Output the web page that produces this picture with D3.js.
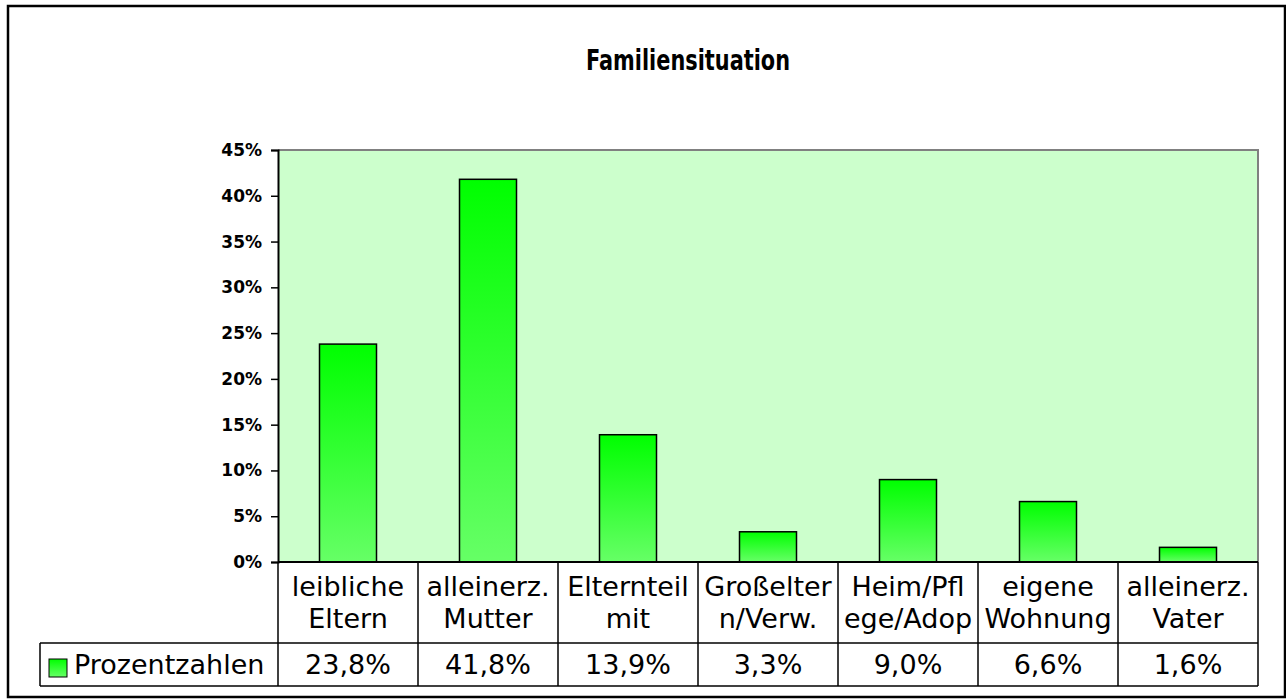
<!DOCTYPE html>
<html>
<head>
<meta charset="utf-8">
<script src="https://cdn.jsdelivr.net/npm/d3@7"></script>
<style>
  body { margin: 0; background: #fff; }
  svg { display: block; }
</style>
</head>
<body>
<div class="chart"></div>
<script>
// chart data
var title = "Familiensituation";
var seriesName = "Prozentzahlen";
var categories = ["leibliche Eltern", "alleinerz. Mutter", "Elternteil mit", "Großeltern/Verw.",
                  "Heim/Pflege/Adop", "eigene Wohnung", "alleinerz. Vater"];
// how the labels wrap in the data table
var categoryLines = [["leibliche", "Eltern"], ["alleinerz.", "Mutter"], ["Elternteil", "mit"],
                     ["Großelter", "n/Verw."], ["Heim/Pfl", "ege/Adop"], ["eigene", "Wohnung"],
                     ["alleinerz.", "Vater"]];
var values = [23.8, 41.8, 13.9, 3.3, 9.0, 6.6, 1.6];
var yTicks = [0, 5, 10, 15, 20, 25, 30, 35, 40, 45];

var width = 1286, height = 699;
var plot = {left: 278, right: 1258, top: 150, bottom: 562};
var tableMid = 643, tableBottom = 686, legendLeft = 40;

var de = d3.formatLocale({decimal: ",", thousands: ".", grouping: [3], currency: ["", " €"]});
var fmtVal = de.format(".1f");

var svg = d3.select("div.chart").append("svg")
  .attr("width", width)
  .attr("height", height);

var defs = svg.append("defs");
var grad = defs.append("linearGradient")
  .attr("id", "barGrad")
  .attr("x1", 0).attr("y1", 0).attr("x2", 0).attr("y2", 1);
grad.append("stop").attr("offset", "0%").attr("stop-color", "#00ff00");
grad.append("stop").attr("offset", "100%").attr("stop-color", "#66ff66");

// outer frame
svg.append("rect")
  .attr("x", 8).attr("y", 6)
  .attr("width", 1277).attr("height", 691)
  .attr("fill", "#fff")
  .attr("stroke", "#000")
  .attr("stroke-width", 2.5);

svg.append("text")
  .attr("x", 688).attr("y", 70)
  .attr("text-anchor", "middle")
  .attr("textLength", 204)
  .attr("lengthAdjust", "spacingAndGlyphs")
  .style("font-family", "DejaVu Sans")
  .style("font-weight", "bold")
  .style("font-size", "29px")
  .text(title);

var x = d3.scaleBand()
  .domain(categories)
  .range([plot.left, plot.right])
  .padding(0);

var y = d3.scaleLinear()
  .domain([0, 45])
  .range([plot.bottom, plot.top]);

// plot background
svg.append("rect")
  .attr("x", plot.left).attr("y", plot.top)
  .attr("width", plot.right - plot.left)
  .attr("height", plot.bottom - plot.top)
  .attr("fill", "#ccffcc");

svg.append("path")
  .attr("d", "M" + plot.left + "," + plot.top + "H" + plot.right + "V" + plot.bottom)
  .attr("fill", "none")
  .attr("stroke", "#808080")
  .attr("stroke-width", 2);

// bars
var barW = 57;
svg.append("g").selectAll("rect")
  .data(values)
  .enter().append("rect")
  .attr("x", (d, i) => x(categories[i]) + (x.bandwidth() - barW) / 2)
  .attr("y", d => y(d))
  .attr("width", barW)
  .attr("height", d => y(0) - y(d))
  .attr("fill", "url(#barGrad)")
  .attr("stroke", "#000")
  .attr("stroke-width", 1.5);

// y axis
var yAxis = svg.append("g")
  .attr("transform", "translate(" + plot.left + ",0)")
  .call(d3.axisLeft(y).tickValues(yTicks).tickSize(7).tickPadding(9).tickFormat(d => d + "%"));
yAxis.select(".domain").attr("stroke", "#000").attr("stroke-width", 2);
yAxis.selectAll(".tick line").attr("stroke", "#000").attr("stroke-width", 1.5);
yAxis.selectAll(".tick text")
  .attr("fill", "#000")
  .style("font-family", "DejaVu Sans")
  .style("font-weight", "bold")
  .style("font-size", "17px");

// data table
var table = svg.append("g")
  .attr("stroke", "#000")
  .attr("stroke-width", 1.5)
  .attr("fill", "none");

table.append("line")
  .attr("x1", plot.left).attr("x2", plot.right)
  .attr("y1", plot.bottom).attr("y2", plot.bottom)
  .attr("stroke-width", 2);
[tableMid, tableBottom].forEach(function(yy) {
  table.append("line")
    .attr("x1", legendLeft).attr("x2", plot.right)
    .attr("y1", yy).attr("y2", yy);
});
table.append("line")
  .attr("x1", legendLeft).attr("x2", legendLeft)
  .attr("y1", tableMid).attr("y2", tableBottom);
table.selectAll("line.col")
  .data(categories.concat(["end"]))
  .enter().append("line")
  .attr("class", "col")
  .attr("x1", (d, i) => i < categories.length ? x(d) : plot.right)
  .attr("x2", (d, i) => i < categories.length ? x(d) : plot.right)
  .attr("y1", plot.bottom).attr("y2", tableBottom);

var cellFont = function(sel) {
  sel.style("font-family", "DejaVu Sans")
    .style("font-size", "27px")
    .attr("fill", "#000");
};

var catText = svg.append("g").selectAll("text")
  .data(categoryLines)
  .enter().append("text")
  .attr("text-anchor", "middle")
  .call(cellFont);
catText.selectAll("tspan")
  .data((d, i) => d.map(s => ({s: s, i: i})))
  .enter().append("tspan")
  .attr("x", d => x(categories[d.i]) + x.bandwidth() / 2)
  .attr("y", (d, j) => 596 + j * 32)
  .text(d => d.s);

svg.append("g").selectAll("text")
  .data(values)
  .enter().append("text")
  .attr("x", (d, i) => x(categories[i]) + x.bandwidth() / 2)
  .attr("y", 674)
  .attr("text-anchor", "middle")
  .call(cellFont)
  .text(d => fmtVal(d) + "%");

// legend key
svg.append("rect")
  .attr("x", 49).attr("y", 659)
  .attr("width", 18).attr("height", 18)
  .attr("fill", "url(#barGrad)")
  .attr("stroke", "#000")
  .attr("stroke-width", 1);
svg.append("text")
  .attr("x", 74).attr("y", 674)
  .call(cellFont)
  .text(seriesName);
</script>
</body>
</html>
